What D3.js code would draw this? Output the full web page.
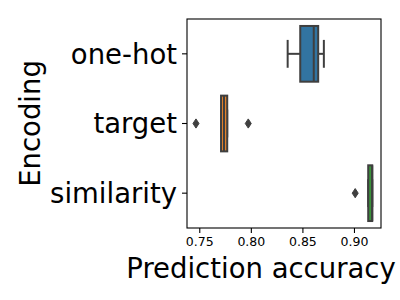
<!DOCTYPE html>
<html>
<head>
<meta charset="utf-8">
<script src="https://cdn.jsdelivr.net/npm/d3@7"></script>
<style>
  body { margin: 0; background: #fff; }
  svg { display: block; }
  svg text { font-family: "DejaVu Sans", "Verdana", sans-serif; }
</style>
</head>
<body>
<div id="chart"></div>
<script>
// box summaries
const encodings = ["one-hot", "target", "similarity"];
const whiskerLow = [0.8357, 0.7711, 0.9138];
const q1 = [0.8479, 0.7711, 0.9138];
const median = [0.8610, 0.7740, 0.9177];
const q3 = [0.8653, 0.7771, 0.9177];
const whiskerHigh = [0.8708, 0.7771, 0.9177];
const outliers = [[], [0.7468, 0.7975], [0.9012]];
const xTicks = [0.75, 0.80, 0.85, 0.90];
const boxColors = ["#3274a1", "#e1812c", "#3a923a"];

const W = 400, H = 300;
const margin = {top: 19, right: 19, bottom: 72, left: 187};
const width = W - margin.left - margin.right;
const height = H - margin.top - margin.bottom;
const gray = "#3f3f3f";
const font = '"DejaVu Sans", sans-serif';

const rows = encodings.map((name, i) => ({
    name,
    lo: whiskerLow[i], q1: q1[i], med: median[i], q3: q3[i], hi: whiskerHigh[i],
    fliers: outliers[i], color: boxColors[i]
}));

const svg = d3.select("#chart").append("svg")
    .attr("width", W)
    .attr("height", H);

const g = svg.append("g")
    .attr("transform", `translate(${margin.left},${margin.top})`);

const x = d3.scaleLinear()
    .domain([0.7381, 0.9262])
    .range([0, width]);

const y = d3.scaleBand()
    .domain(encodings)
    .range([0, height])
    .padding(0);

const boxH = y.bandwidth() * 0.8;
const capH = boxH * 0.5;

const boxes = g.selectAll(".box")
    .data(rows)
    .enter()
    .append("g")
    .attr("class", "box")
    .attr("transform", d => `translate(0,${y(d.name) + y.bandwidth() / 2})`);

// whiskers
boxes.append("line")
    .attr("x1", d => x(d.lo)).attr("x2", d => x(d.q1))
    .attr("stroke", gray).attr("stroke-width", 2);
boxes.append("line")
    .attr("x1", d => x(d.q3)).attr("x2", d => x(d.hi))
    .attr("stroke", gray).attr("stroke-width", 2);
// caps
boxes.append("line")
    .attr("x1", d => x(d.lo)).attr("x2", d => x(d.lo))
    .attr("y1", -capH / 2).attr("y2", capH / 2)
    .attr("stroke", gray).attr("stroke-width", 2);
boxes.append("line")
    .attr("x1", d => x(d.hi)).attr("x2", d => x(d.hi))
    .attr("y1", -capH / 2).attr("y2", capH / 2)
    .attr("stroke", gray).attr("stroke-width", 2);

boxes.append("rect")
    .attr("x", d => x(d.q1))
    .attr("width", d => x(d.q3) - x(d.q1))
    .attr("y", -boxH / 2)
    .attr("height", boxH)
    .attr("fill", d => d.color)
    .attr("stroke", gray)
    .attr("stroke-width", 2);

boxes.append("line")
    .attr("x1", d => x(d.med)).attr("x2", d => x(d.med))
    .attr("y1", -boxH / 2).attr("y2", boxH / 2)
    .attr("stroke", gray).attr("stroke-width", 2);

// fliers, thin diamonds
boxes.selectAll(".flier")
    .data(d => d.fliers)
    .enter()
    .append("path")
    .attr("class", "flier")
    .attr("d", v => `M${x(v)},-4.6L${x(v) + 3},0L${x(v)},4.6L${x(v) - 3},0Z`)
    .attr("fill", gray)
    .attr("stroke", gray)
    .attr("stroke-width", 1);

// axes
const xAxis = g.append("g")
    .attr("transform", `translate(0,${height})`)
    .call(d3.axisBottom(x).tickValues(xTicks).tickFormat(d3.format(".2f")).tickSize(5).tickPadding(4));
xAxis.attr("font-family", null);
xAxis.selectAll("text")
    .style("font-family", font)
    .style("font-size", "12.5px")
    .attr("fill", "#000");

const yAxis = g.append("g")
    .call(d3.axisLeft(y).tickSize(5).tickPadding(5));
yAxis.attr("font-family", null);
yAxis.selectAll("text")
    .style("font-family", font)
    .style("font-size", "27.5px")
    .attr("fill", "#000")
    .attr("dy", "0.36em");

g.selectAll(".domain").remove();
g.selectAll(".tick line").attr("stroke", "#000").attr("stroke-width", 1.1);

// frame
g.append("rect")
    .attr("width", width)
    .attr("height", height)
    .attr("fill", "none")
    .attr("stroke", "#000")
    .attr("stroke-width", 1.1);

svg.append("text")
    .attr("x", 261)
    .attr("y", 278)
    .attr("text-anchor", "middle")
    .style("font-family", font)
    .style("font-size", "27.5px")
    .text("Prediction accuracy");

svg.append("text")
    .attr("transform", `translate(40,${margin.top + height / 2}) rotate(-90)`)
    .attr("text-anchor", "middle")
    .style("font-family", font)
    .style("font-size", "27.5px")
    .text("Encoding");
</script>
</body>
</html>
